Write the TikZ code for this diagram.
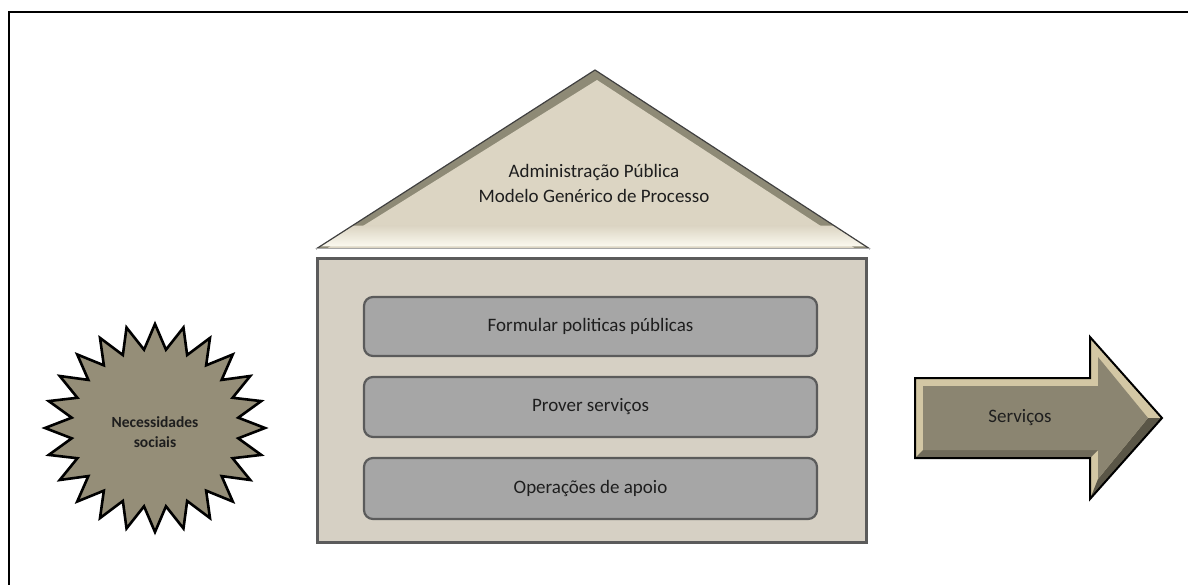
\documentclass[tikz,border=0pt]{standalone}
\usepackage{fontspec}
\setmainfont{Carlito}
\usetikzlibrary{calc}
\definecolor{roofbeige}{HTML}{DCD5C3}
\definecolor{roofedge}{HTML}{8E8A76}
\definecolor{roofcream}{HTML}{FBF9EF}
\definecolor{wallfill}{HTML}{D6D0C4}
\definecolor{wallline}{HTML}{5B5B5B}
\definecolor{barfill}{HTML}{A6A6A6}
\definecolor{starfill}{HTML}{958E78}
\definecolor{arrowfill}{HTML}{8B8571}
\definecolor{arrowlight}{HTML}{D3C7A4}
\definecolor{arrowdark}{HTML}{4E4A3D}
\definecolor{inktext}{HTML}{1E1E1E}
\tikzset{
  frameline/.style={line width=2pt, black},
  wallbox/.style={draw=wallline, line width=3pt, fill=wallfill},
  barbox/.style={draw=wallline, line width=2.2pt, fill=barfill, rounded corners=9pt},
  label/.style={text=inktext, font=\fontsize{19}{25}\selectfont, align=center, inner sep=0pt},
  starlabel/.style={text=inktext, font=\fontsize{15.5}{20}\selectfont\bfseries, align=center, inner sep=0pt},
}
\begin{document}
\begin{tikzpicture}[x=1pt,y=-1pt]
\useasboundingbox (0,0) rectangle (1188,585);

% open frame: top and left edges
\coordinate (fTL) at (9,12);
\coordinate (fTR) at (1188,12);
\coordinate (fBL) at (9,585);
\draw[frameline] (fTR) -- (fTL) -- (fBL);

% roof
\coordinate (rA) at (595,70);
\coordinate (rB) at (316,249);
\coordinate (rC) at (870,249);
\fill[roofedge] (rA) -- (rB) -- (rC) -- cycle;
\coordinate (iA) at (597,80);
\coordinate (iB) at (326,249);
\coordinate (iC) at (856,249);
\fill[roofbeige] (iA) -- (iB) -- (iC) -- cycle;
\shade[top color=roofbeige, bottom color=roofcream]
  ($(rA)!0.87!(rB)$) -- ($(rA)!0.87!(rC)$) -- ($(rA)!0.985!(rC)$) -- ($(rA)!0.985!(rB)$) -- cycle;
\draw[line width=1.2pt, black!75] (rB) -- (rA) -- (rC);
\draw[line width=1pt, gray!70] (rB) -- (rC);
\node[label] (roof) at (594,183) {Administração Pública\\Modelo Genérico de Processo};

% wall with the three processes
\node[wallbox, minimum width=549pt, minimum height=284pt, inner sep=0pt] (wall) at (592,400.5) {};
\node[barbox, minimum width=453pt, minimum height=59pt, inner sep=0pt] (p1) at (590.5,326.5) {};
\node[barbox, minimum width=453pt, minimum height=60pt, inner sep=0pt] (p2) at (590.5,407) {};
\node[barbox, minimum width=453pt, minimum height=61pt, inner sep=0pt] (p3) at (590.5,488.5) {};
\node[label] (t1) at (p1) {Formular politicas públicas};
\node[label] (t2) at (p2) {Prover serviços};
\node[label] (t3) at (p3) {Operações de apoio};

% 24-point star
\coordinate (sc) at (155,428);
\draw[shift={(sc)}, line width=2.6pt, black, fill=starfill, line join=miter]
  plot[samples at={0,...,47}, variable=\k]
    ({cos(90+\k*7.5)*ifthenelse(mod(\k,2)==0,110,84)},{-sin(90+\k*7.5)*ifthenelse(mod(\k,2)==0,104,79)}) -- cycle;
\node[starlabel] (needs) at (155,432) {Necessidades\\sociais};

% output arrow
\coordinate (a1) at (915,378);
\coordinate (a2) at (1090,378);
\coordinate (a3) at (1090,337);
\coordinate (a4) at (1162,418);
\coordinate (a5) at (1090,499);
\coordinate (a6) at (1090,458);
\coordinate (a7) at (915,458);
\fill[arrowlight] (a1) -- (a2) -- (a3) -- (a4) -- (a5) -- (a6) -- (a7) -- cycle;
\coordinate (b1) at (923,386);
\coordinate (b2) at (1098,386);
\coordinate (b3) at (1098,357);
\coordinate (b4) at (1148,418);
\coordinate (b5) at (1098,479);
\coordinate (b6) at (1098,450);
\coordinate (b7) at (923,450);
\fill[arrowdark!80!arrowfill] (a4) -- (a5) -- (b5) -- (b4) -- cycle;
\fill[arrowdark!45!arrowfill] (a6) -- (a7) -- (b7) -- (b6) -- cycle;
\fill[arrowfill] (b1) -- (b2) -- (b3) -- (b4) -- (b5) -- (b6) -- (b7) -- cycle;
\draw[line width=2pt, black, line join=miter] (a1) -- (a2) -- (a3) -- (a4) -- (a5) -- (a6) -- (a7) -- cycle;
\node[label] (out) at (1020,418) {Serviços};
\end{tikzpicture}
\end{document}
